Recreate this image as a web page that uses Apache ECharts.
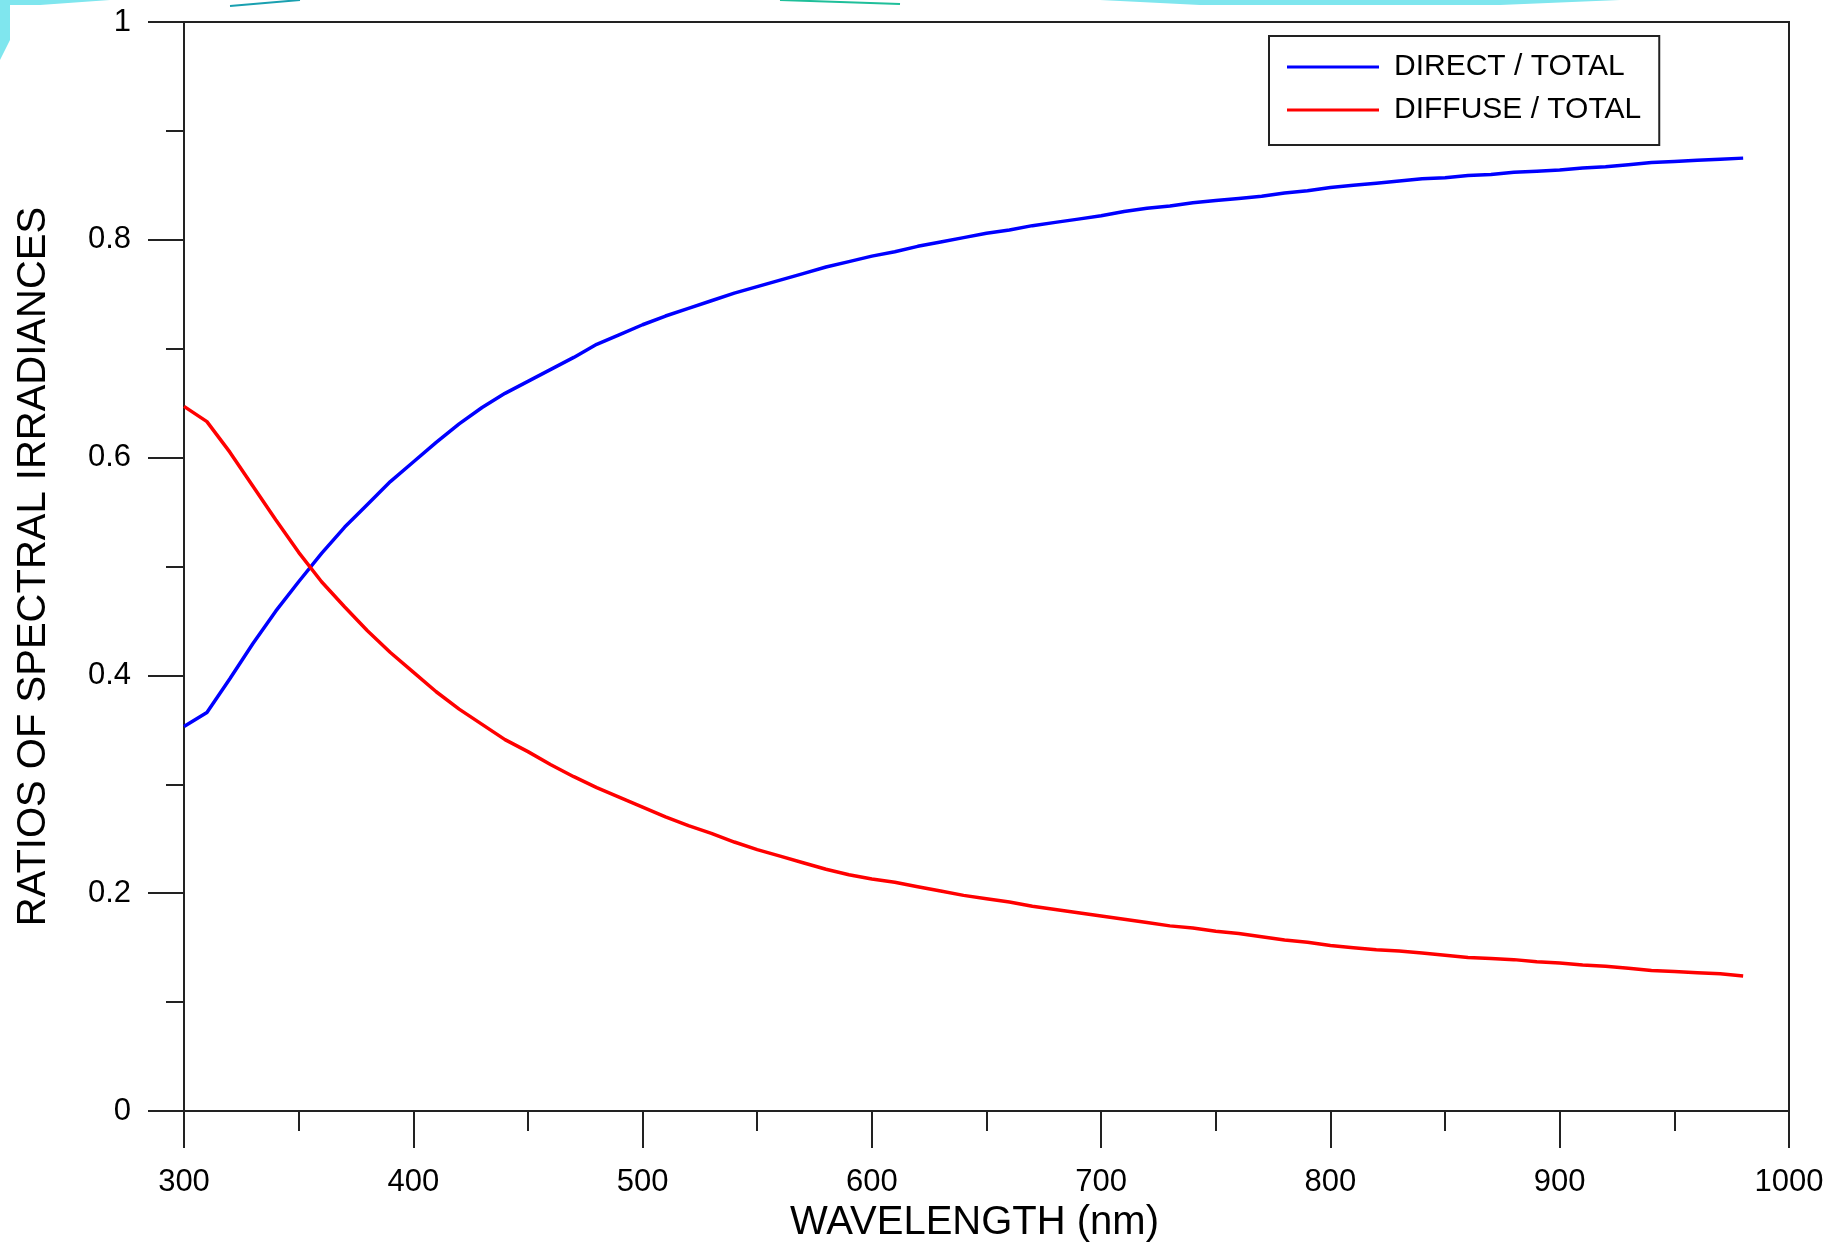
<!DOCTYPE html>
<html>
<head>
<meta charset="utf-8">
<script src="https://cdn.jsdelivr.net/npm/echarts@6/dist/echarts.min.js"></script>
<style>
html,body{margin:0;padding:0;background:#fff;}
#chart{width:1837px;height:1243px;}
</style>
</head>
<body>
<div id="chart"></div>
<script>
// Wavelengths (nm)
const wavelengths = [300,310,320,330,340,350,360,370,380,390,400,410,420,430,440,450,460,470,480,490,
  500,510,520,530,540,550,560,570,580,590,600,610,620,630,640,650,660,670,680,690,
  700,710,720,730,740,750,760,770,780,790,800,810,820,830,840,850,860,870,880,890,
  900,910,920,930,940,950,960,970,980];
// DIRECT / TOTAL
const directTotal = [0.353,0.366,0.397,0.429,0.459,0.486,0.512,0.536,0.557,0.578,0.596,0.614,0.631,0.646,0.659,0.670,0.681,0.692,0.704,0.713,
  0.722,0.730,0.737,0.744,0.751,0.757,0.763,0.769,0.775,0.780,0.785,0.789,0.794,0.798,0.802,0.806,0.809,0.813,0.816,0.819,
  0.822,0.826,0.829,0.831,0.834,0.836,0.838,0.840,0.843,0.845,0.848,0.850,0.852,0.854,0.856,0.857,0.859,0.860,0.862,0.863,
  0.864,0.866,0.867,0.869,0.871,0.872,0.873,0.874,0.875];
// DIFFUSE / TOTAL
const diffuseTotal = [0.647,0.633,0.605,0.574,0.543,0.513,0.486,0.463,0.441,0.421,0.403,0.385,0.369,0.355,0.341,0.330,0.318,0.307,0.297,0.288,
  0.279,0.270,0.262,0.255,0.247,0.240,0.234,0.228,0.222,0.217,0.213,0.210,0.206,0.202,0.198,0.195,0.192,0.188,0.185,0.182,
  0.179,0.176,0.173,0.170,0.168,0.165,0.163,0.160,0.157,0.155,0.152,0.150,0.148,0.147,0.145,0.143,0.141,0.140,0.139,0.137,
  0.136,0.134,0.133,0.131,0.129,0.128,0.127,0.126,0.124];
const seriesNames = ['DIRECT / TOTAL', 'DIFFUSE / TOTAL'];
const xTicks = [300,400,500,600,700,800,900,1000];
const yTicks = [0,0.2,0.4,0.6,0.8,1];

const FONT = '"Liberation Sans", Arial, sans-serif';
const chart = echarts.init(document.getElementById('chart'), null, {renderer:'canvas'});

const pairs = (ys) => wavelengths.map((w,i)=>[w, ys[i]]);

chart.setOption({
  backgroundColor: '#ffffff',
  animation: false,
  graphic: [
    {type:'polygon', z:-10, shape:{points:[[0,0],[110,0],[40,5],[10,5],[10,40],[0,60]]}, style:{fill:'#7fe6ee'}},
    {type:'polygon', z:-10, shape:{points:[[1100,0],[1620,0],[1500,5],[1200,5]]}, style:{fill:'#7fe6ee'}},
    {type:'polyline', z:-10, shape:{points:[[230,6],[300,0]]}, style:{stroke:'#1aa0b0', lineWidth:2}},
    {type:'polyline', z:-10, shape:{points:[[780,0],[900,4]]}, style:{stroke:'#1fbf9a', lineWidth:2}}
  ],
  grid: {left:184, right:48, top:22, bottom:132, show:true, borderColor:'#222', borderWidth:2,
         backgroundColor:'transparent', containLabel:false, outerBoundsMode:'none'},
  legend: {
    data: seriesNames,
    orient: 'vertical',
    left: 1269, top: 36,
    padding: [16, 18, 20, 18],
    itemGap: 13,
    itemWidth: 92, itemHeight: 3,
    icon: 'rect',
    borderColor: '#222', borderWidth: 2,
    backgroundColor: '#fff',
    textStyle: {fontFamily: FONT, fontSize: 30, color:'#000', padding:[0,0,0,10]}
  },
  xAxis: {
    type: 'value', min: xTicks[0], max: xTicks[xTicks.length-1], interval: 100,
    name: 'WAVELENGTH (nm)', nameLocation: 'middle', nameGap: 88,
    nameTextStyle: {fontFamily: FONT, fontSize: 40, color:'#000', padding:[0,24,0,0]},
    axisLine: {show:true, lineStyle:{color:'#222', width:2}},
    axisTick: {show:true, inside:false, length:37, lineStyle:{color:'#222', width:2}},
    minorTick: {show:true, splitNumber:2, length:20, lineStyle:{color:'#222', width:2}},
    splitLine: {show:false},
    axisLabel: {fontFamily: FONT, fontSize: 31, color:'#000', margin: 56, formatter: (v)=> String(v)}
  },
  yAxis: {
    type: 'value', min: yTicks[0], max: yTicks[yTicks.length-1], interval: 0.2,
    name: 'RATIOS OF SPECTRAL IRRADIANCES', nameLocation: 'middle', nameGap: 130,
    nameTextStyle: {fontFamily: FONT, fontSize: 40, color:'#000'},
    axisLine: {show:true, lineStyle:{color:'#222', width:2}},
    axisTick: {show:true, inside:false, length:36, lineStyle:{color:'#222', width:2}},
    minorTick: {show:true, splitNumber:2, length:18, lineStyle:{color:'#222', width:2}},
    splitLine: {show:false},
    axisLabel: {fontFamily: FONT, fontSize: 31, color:'#000', margin: 53,
      formatter: (v)=> (v===0||v===1) ? String(v) : v.toFixed(1)}
  },
  series: [
    {name: seriesNames[0], type:'line', data: pairs(directTotal), showSymbol:false, symbol:'none',
     lineStyle:{color:'#0000ff', width:3.5}, itemStyle:{color:'#0000ff'}},
    {name: seriesNames[1], type:'line', data: pairs(diffuseTotal), showSymbol:false, symbol:'none',
     lineStyle:{color:'#ff0000', width:3.5}, itemStyle:{color:'#ff0000'}}
  ]
});
</script>
</body>
</html>
